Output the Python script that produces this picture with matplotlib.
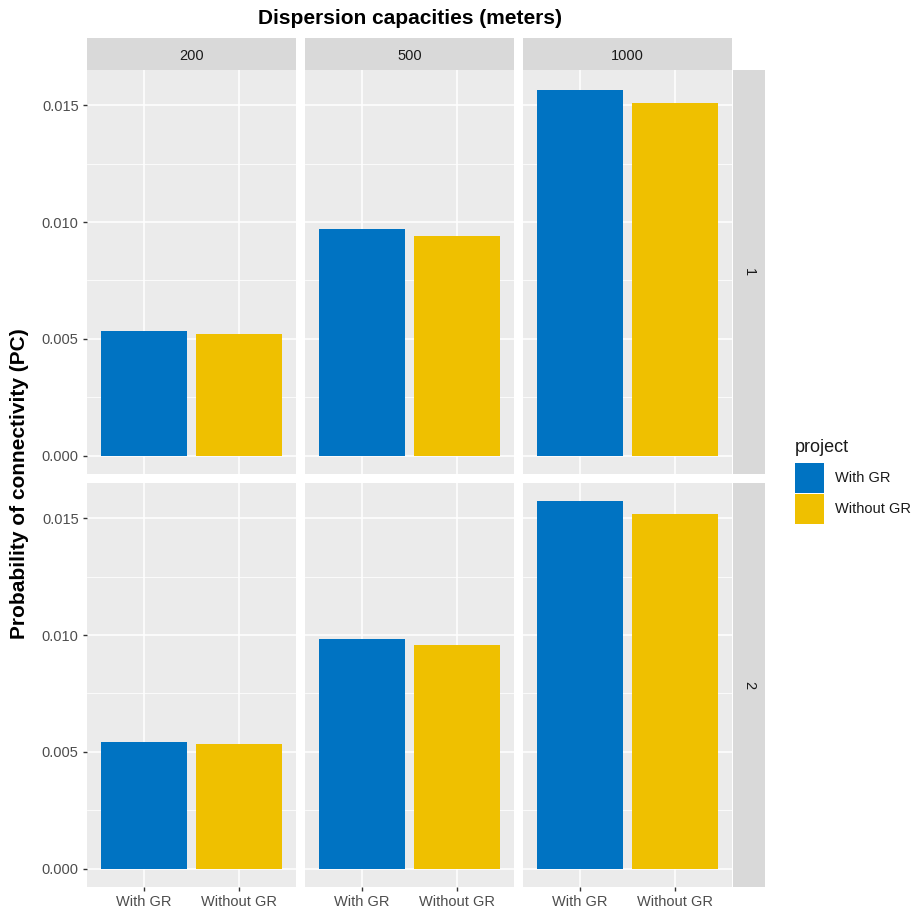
import numpy as np
import matplotlib.pyplot as plt

plt.rcParams['font.family'] = ['Liberation Sans', 'DejaVu Sans']

capacities = ['200', '500', '1000']
rows = ['1', '2']
projects = ['With GR', 'Without GR']
colors = ['#0073C2', '#EFC000']

# values[row][capacity] = [With GR, Without GR]
values = {
    '1': {'200': [0.00533, 0.00520], '500': [0.00968, 0.00942], '1000': [0.01565, 0.01509]},
    '2': {'200': [0.00544, 0.00532], '500': [0.00985, 0.00956], '1000': [0.01572, 0.01518]},
}

W, H = 920, 917
fig = plt.figure(figsize=(W / 100, H / 100), dpi=100)

col_x = [87, 305, 523]
pw = 209
row_y = [70, 483]
ph = 404

ymax = max(max(v) for r in values.values() for v in r.values())
ylim = (-0.05 * ymax, 1.05 * ymax)


def box(x, y, w, h):
    return [x / W, 1 - (y + h) / H, w / W, h / H]


for ri, r in enumerate(rows):
    for ci, c in enumerate(capacities):
        ax = fig.add_axes(box(col_x[ci], row_y[ri], pw, ph))
        ax.set_facecolor('#EBEBEB')
        for s in ax.spines.values():
            s.set_visible(False)
        ax.set_axisbelow(True)
        ax.set_xlim(0.4, 2.6)
        ax.set_ylim(*ylim)
        ax.set_yticks([0, 0.005, 0.010, 0.015])
        ax.set_yticks([0.0025, 0.0075, 0.0125], minor=True)
        ax.grid(True, which='major', color='white', linewidth=1.1)
        ax.grid(True, which='minor', axis='y', color='white', linewidth=0.55)
        ax.bar([1, 2], values[r][c], width=0.9, color=colors)
        ax.set_xticks([1, 2])
        ax.tick_params(which='minor', length=0)
        ax.tick_params(which='major', color='#333333', length=3, width=1.0,
                       labelsize=10.5, labelcolor='#4D4D4D', pad=3)
        if ri == 1:
            ax.set_xticklabels(projects)
        else:
            ax.tick_params(axis='x', length=0, labelbottom=False)
        if ci == 0:
            ax.set_yticklabels(['0.000', '0.005', '0.010', '0.015'])
        else:
            ax.tick_params(axis='y', length=0, labelleft=False)

        if ri == 0:
            sax = fig.add_axes(box(col_x[ci], 38, pw, 32))
            sax.set_facecolor('#D9D9D9')
            sax.set_xticks([]); sax.set_yticks([])
            for s in sax.spines.values():
                s.set_visible(False)
            sax.text(0.5, 0.45, c, ha='center', va='center', fontsize=10.5, color='#1A1A1A',
                     transform=sax.transAxes)
    rax = fig.add_axes(box(733, row_y[ri], 32, ph))
    rax.set_facecolor('#D9D9D9')
    rax.set_xticks([]); rax.set_yticks([])
    for s in rax.spines.values():
        s.set_visible(False)
    rax.text(0.5, 0.5, r, ha='center', va='center', rotation=-90, fontsize=10.5,
             color='#1A1A1A', transform=rax.transAxes)

fig.text(410 / W, 1 - 19 / H, 'Dispersion capacities (meters)', ha='center', va='center',
         fontsize=15, fontweight='bold')
fig.text(20 / W, 1 - 484 / H, 'Probability of connectivity (PC)', ha='center', va='center',
         rotation=90, fontsize=15, fontweight='bold')

# legend
fig.text(795 / W, 1 - 448 / H, 'project', ha='left', va='center', fontsize=13, color='#1A1A1A')
for i, (p, col) in enumerate(zip(projects, colors)):
    y0 = 463 + i * 31
    lax = fig.add_axes(box(795, y0, 29, 30))
    lax.set_facecolor(col)
    lax.set_xticks([]); lax.set_yticks([])
    for s in lax.spines.values():
        s.set_visible(False)
    fig.text(835 / W, 1 - (y0 + 15) / H, p, ha='left', va='center', fontsize=10.5, color='#1A1A1A')

plt.savefig('out.png', dpi=100)
